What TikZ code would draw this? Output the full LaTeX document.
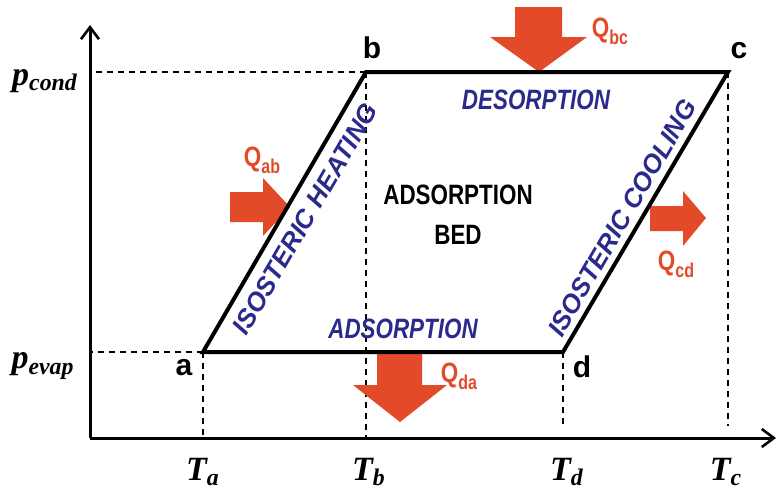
\documentclass[tikz,border=0pt]{standalone}
\usepackage{fontspec}
\setmainfont{Liberation Serif}
\setsansfont{Liberation Sans}
\newfontfamily\narrowsf[FakeStretch=0.8]{Liberation Sans}
\usetikzlibrary{arrows.meta}
\definecolor{heatred}{RGB}{226,74,42}
\definecolor{procblue}{RGB}{42,42,140}

\begin{document}
\begin{tikzpicture}[
    x=0.5pt, y=-0.5pt,
    axis/.style={line width=1.5pt, -{Straight Barb[length=6pt,width=9pt,line width=1.3pt]}},
    bedline/.style={line width=2pt},
    guide/.style={dashed, line width=0.6pt, dash pattern=on 3pt off 2.5pt},
    heat/.style={fill=heatred},
    qlabel/.style={text=heatred, font=\narrowsf\bfseries\fontsize{14}{16}\selectfont, inner sep=0pt},
    state/.style={font=\sffamily\bfseries\fontsize{15}{17}\selectfont, inner sep=0pt},
    varlabel/.style={font=\bfseries\itshape\fontsize{17}{20}\selectfont, inner sep=0pt},
    process/.style={text=procblue, font=\narrowsf\bfseries\itshape\fontsize{14}{16}\selectfont, inner sep=0pt},
    isostere/.style={text=procblue, font=\sffamily\bfseries\itshape\fontsize{13}{15}\selectfont, inner sep=0pt, rotate=59.8}
]
\useasboundingbox (0,0) rectangle (777,493);

% Axes
\coordinate (O)    at (90, 438);
\coordinate (ytop) at (90, 25);
\coordinate (xend) at (776, 438);

% Cycle corners
\coordinate (a) at (203, 352);
\coordinate (b) at (366, 72);
\coordinate (c) at (728, 72);
\coordinate (d) at (563, 352);

% Guide lines
\draw[guide] (b) -- (b -| O);
\draw[guide] (a) -- (a -| O);
\foreach \p in {a,b}{
    \draw[guide] (\p) -- (\p |- O);
}
\foreach \p in {c,d}{
    \draw[guide] (\p) -- ([yshift=6pt]\p |- O);
}

% Heat arrows
\fill[heat] (515,7) -- (562,7) -- (562,37) -- (587,37) -- (539,72) -- (490,37) -- (515,37) -- cycle;
\fill[heat] (230,192) -- (263,192) -- (263,178) -- (290,207) -- (263,236) -- (263,222) -- (230,222) -- cycle;
\fill[heat] (650,206) -- (683,206) -- (683,191) -- (706,218) -- (683,246) -- (683,231) -- (650,231) -- cycle;
\fill[heat] (377,352) -- (422,352) -- (422,385) -- (447,385) -- (400,422) -- (353,385) -- (377,385) -- cycle;

% Axes and cycle
\draw[axis] (O) -- (ytop);
\draw[axis] (O) -- (xend);
\draw[bedline] (a) -- (b) -- (c) -- (d) -- cycle;

% State labels
\node[state] (la) at (184, 368) {a};
\node[state] (lb) at (372, 48)  {b};
\node[state] (lc) at (739, 51)  {c};
\node[state] (ld) at (582, 367) {d};

% Axis labels
\node[varlabel] (pcond) at (45, 81)  {p\textsubscript{cond}};
\node[varlabel] (pevap) at (43, 366) {p\textsubscript{evap}};
\node[varlabel] (Ta) at (203, 472) {T\textsubscript{a}};
\node[varlabel] (Tb) at (369, 472) {T\textsubscript{b}};
\node[varlabel] (Td) at (567, 472) {T\textsubscript{d}};
\node[varlabel] (Tc) at (726, 472) {T\textsubscript{c}};

% Heat labels
\node[qlabel] (qbc) at (610, 31)  {Q\raisebox{-0.45ex}{\fontsize{10}{12}\selectfont bc}};
\node[qlabel] (qab) at (262, 160) {Q\raisebox{-0.45ex}{\fontsize{10}{12}\selectfont ab}};
\node[qlabel] (qcd) at (676, 264) {Q\raisebox{-0.45ex}{\fontsize{10}{12}\selectfont cd}};
\node[qlabel] (qda) at (459, 376) {Q\raisebox{-0.45ex}{\fontsize{10}{12}\selectfont da}};

% Process labels
\node[process] (desorb) at (536, 100) {DESORPTION};
\node[process] (adsorb) at (403, 329) {ADSORPTION};
\node[isostere] (heating) at (305, 219) {ISOSTERIC HEATING};
\node[isostere] (cooling) at (622, 218) {ISOSTERIC COOLING};
\node[font=\narrowsf\bfseries\fontsize{14}{20}\selectfont, align=center, inner sep=0pt] (bed) at (458, 215) {ADSORPTION\\BED};

\end{tikzpicture}
\end{document}
